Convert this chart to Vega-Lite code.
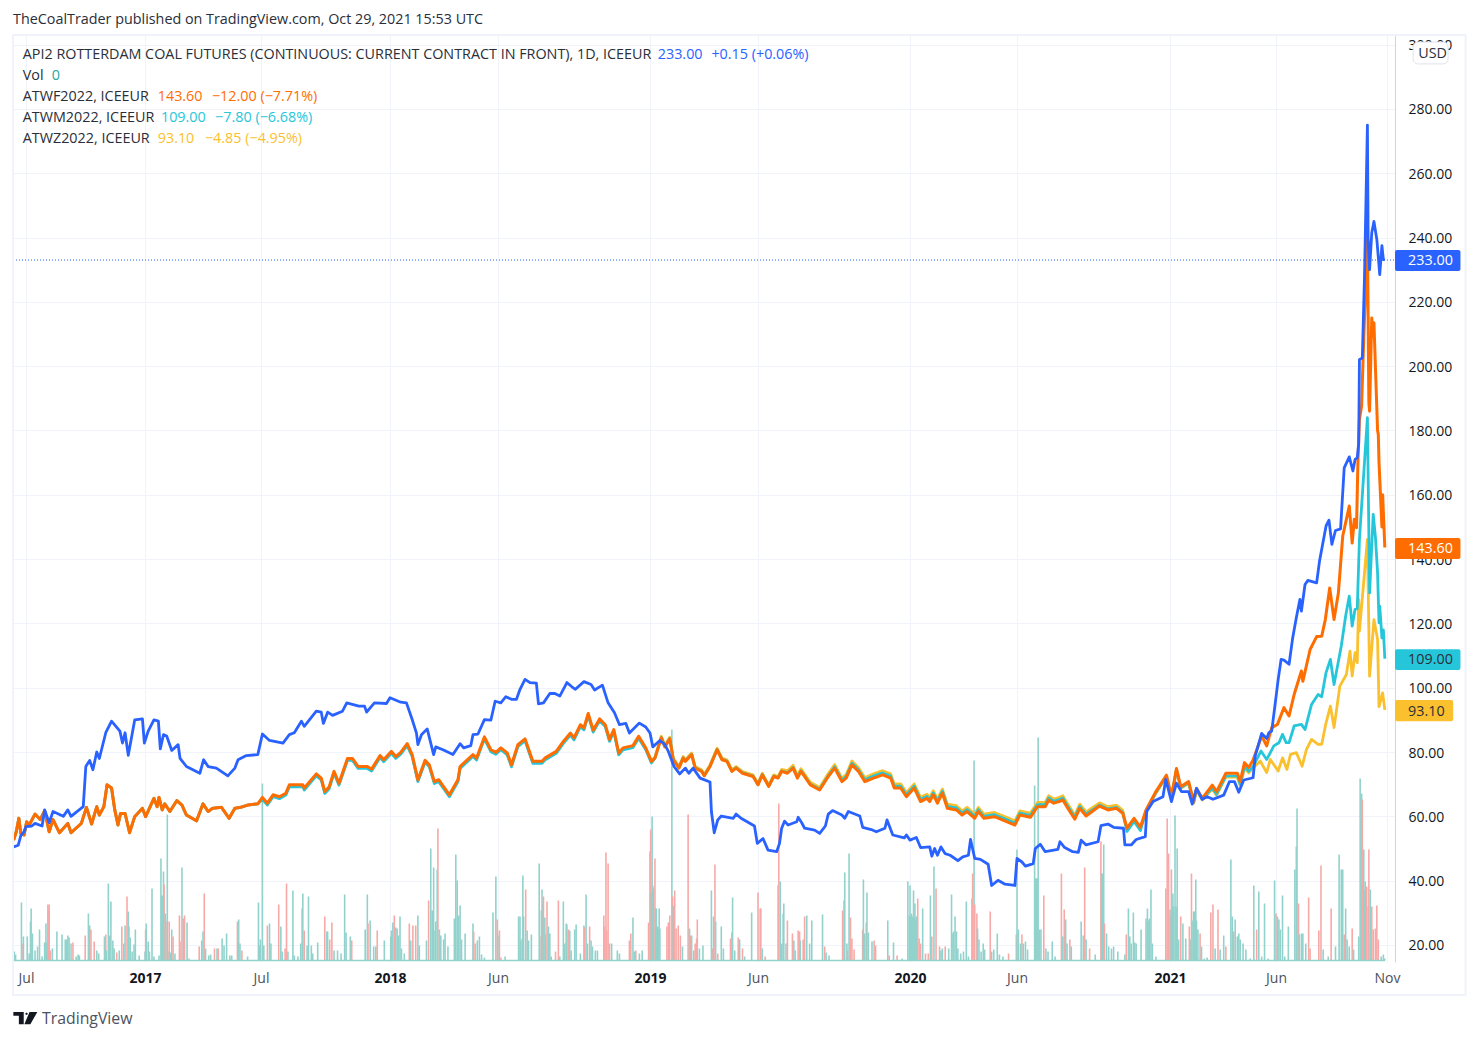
{
"$schema":"https://vega.github.io/schema/vega-lite/v6.json",
"autosize":{"type":"none"},
"padding":{"left":13,"top":35,"right":83,"bottom":78},
"width":1382,"height":927,
"background":"white",
"config":{"view":{"stroke":null},"font":"Open Sans"},
"datasets":{
"volume":[
{"date":"2016-06-13","vol":90,"side":"up"},{"date":"2016-06-15","vol":60,"side":"up"},{"date":"2016-06-24","vol":580,"side":"up"},{"date":"2016-06-25","vol":170,"side":"down"},{"date":"2016-06-27","vol":240,"side":"up"},{"date":"2016-07-03","vol":240,"side":"up"},{"date":"2016-07-06","vol":70,"side":"up"},{"date":"2016-07-08","vol":390,"side":"up"},{"date":"2016-07-09","vol":520,"side":"up"},{"date":"2016-07-11","vol":270,"side":"up"},{"date":"2016-07-15","vol":100,"side":"up"},{"date":"2016-07-19","vol":140,"side":"up"},{"date":"2016-07-22","vol":310,"side":"up"},{"date":"2016-07-26","vol":40,"side":"up"},{"date":"2016-07-30","vol":180,"side":"up"},{"date":"2016-08-01","vol":370,"side":"up"},{"date":"2016-08-02","vol":180,"side":"up"},{"date":"2016-08-04","vol":560,"side":"down"},{"date":"2016-08-05","vol":500,"side":"down"},{"date":"2016-08-06","vol":560,"side":"down"},{"date":"2016-08-08","vol":100,"side":"down"},{"date":"2016-08-11","vol":120,"side":"up"},{"date":"2016-08-18","vol":290,"side":"up"},{"date":"2016-08-26","vol":260,"side":"up"},{"date":"2016-08-31","vol":210,"side":"up"},{"date":"2016-09-02","vol":210,"side":"up"},{"date":"2016-09-04","vol":250,"side":"up"},{"date":"2016-09-06","vol":230,"side":"up"},{"date":"2016-09-09","vol":170,"side":"up"},{"date":"2016-09-12","vol":180,"side":"down"},{"date":"2016-09-17","vol":40,"side":"up"},{"date":"2016-09-20","vol":60,"side":"up"},{"date":"2016-09-22","vol":50,"side":"up"},{"date":"2016-10-01","vol":250,"side":"down"},{"date":"2016-10-06","vol":470,"side":"up"},{"date":"2016-10-08","vol":350,"side":"up"},{"date":"2016-10-10","vol":310,"side":"down"},{"date":"2016-10-15","vol":190,"side":"down"},{"date":"2016-10-19","vol":100,"side":"up"},{"date":"2016-10-22","vol":70,"side":"up"},{"date":"2016-10-31","vol":240,"side":"up"},{"date":"2016-11-02","vol":260,"side":"down"},{"date":"2016-11-03","vol":100,"side":"up"},{"date":"2016-11-06","vol":770,"side":"up"},{"date":"2016-11-08","vol":250,"side":"up"},{"date":"2016-11-10","vol":590,"side":"up"},{"date":"2016-11-13","vol":200,"side":"up"},{"date":"2016-11-15","vol":120,"side":"up"},{"date":"2016-11-19","vol":80,"side":"down"},{"date":"2016-11-23","vol":100,"side":"up"},{"date":"2016-11-27","vol":340,"side":"down"},{"date":"2016-11-30","vol":170,"side":"up"},{"date":"2016-12-02","vol":350,"side":"up"},{"date":"2016-12-05","vol":640,"side":"down"},{"date":"2016-12-07","vol":490,"side":"up"},{"date":"2016-12-08","vol":340,"side":"up"},{"date":"2016-12-10","vol":230,"side":"up"},{"date":"2016-12-13","vol":90,"side":"up"},{"date":"2016-12-16","vol":160,"side":"up"},{"date":"2016-12-18","vol":310,"side":"up"},{"date":"2016-12-24","vol":50,"side":"up"},
{"date":"2017-01-02","vol":90,"side":"up"},{"date":"2017-01-03","vol":310,"side":"down"},{"date":"2017-01-04","vol":370,"side":"up"},{"date":"2017-01-07","vol":190,"side":"up"},{"date":"2017-01-09","vol":90,"side":"up"},{"date":"2017-01-13","vol":720,"side":"up"},{"date":"2017-01-16","vol":40,"side":"up"},{"date":"2017-01-24","vol":50,"side":"up"},{"date":"2017-01-27","vol":1020,"side":"up"},{"date":"2017-01-28","vol":640,"side":"up"},{"date":"2017-01-29","vol":650,"side":"up"},{"date":"2017-01-31","vol":890,"side":"up"},{"date":"2017-02-01","vol":760,"side":"down"},{"date":"2017-02-03","vol":470,"side":"up"},{"date":"2017-02-04","vol":390,"side":"down"},{"date":"2017-02-06","vol":1460,"side":"up"},{"date":"2017-02-07","vol":90,"side":"up"},{"date":"2017-02-09","vol":390,"side":"down"},{"date":"2017-02-11","vol":80,"side":"up"},{"date":"2017-02-13","vol":310,"side":"up"},{"date":"2017-02-15","vol":240,"side":"down"},{"date":"2017-02-18","vol":70,"side":"up"},{"date":"2017-02-25","vol":450,"side":"down"},{"date":"2017-02-26","vol":190,"side":"down"},{"date":"2017-03-01","vol":930,"side":"up"},{"date":"2017-03-03","vol":420,"side":"down"},{"date":"2017-03-05","vol":450,"side":"down"},{"date":"2017-03-09","vol":380,"side":"up"},{"date":"2017-03-12","vol":20,"side":"up"},{"date":"2017-03-28","vol":140,"side":"down"},{"date":"2017-04-01","vol":200,"side":"up"},{"date":"2017-04-03","vol":290,"side":"up"},{"date":"2017-04-05","vol":670,"side":"down"},{"date":"2017-04-07","vol":120,"side":"up"},{"date":"2017-04-12","vol":50,"side":"up"},{"date":"2017-04-15","vol":60,"side":"up"},{"date":"2017-04-21","vol":120,"side":"down"},{"date":"2017-04-25","vol":120,"side":"up"},{"date":"2017-04-27","vol":120,"side":"down"},{"date":"2017-05-03","vol":220,"side":"up"},{"date":"2017-05-06","vol":150,"side":"up"},{"date":"2017-05-10","vol":270,"side":"up"},{"date":"2017-05-15","vol":50,"side":"up"},{"date":"2017-05-18","vol":50,"side":"up"},{"date":"2017-05-27","vol":390,"side":"down"},{"date":"2017-05-29","vol":410,"side":"up"},{"date":"2017-05-31","vol":170,"side":"up"},{"date":"2017-06-03","vol":100,"side":"down"},{"date":"2017-06-12","vol":40,"side":"up"},{"date":"2017-06-29","vol":580,"side":"up"},{"date":"2017-07-01","vol":150,"side":"up"},{"date":"2017-07-02","vol":210,"side":"up"},{"date":"2017-07-05","vol":1770,"side":"up"},{"date":"2017-07-07","vol":150,"side":"up"},{"date":"2017-07-12","vol":350,"side":"down"},{"date":"2017-07-15","vol":370,"side":"up"},{"date":"2017-07-17","vol":170,"side":"up"},{"date":"2017-07-28","vol":560,"side":"down"},{"date":"2017-07-31","vol":340,"side":"up"},{"date":"2017-08-02","vol":90,"side":"up"},{"date":"2017-08-06","vol":120,"side":"down"},{"date":"2017-08-08","vol":770,"side":"down"},{"date":"2017-08-10","vol":90,"side":"up"},{"date":"2017-08-17","vol":700,"side":"up"},{"date":"2017-08-19","vol":50,"side":"up"},{"date":"2017-08-24","vol":40,"side":"up"},{"date":"2017-08-28","vol":170,"side":"up"},{"date":"2017-08-30","vol":520,"side":"down"},{"date":"2017-08-31","vol":670,"side":"up"},{"date":"2017-09-02","vol":300,"side":"down"},{"date":"2017-09-06","vol":150,"side":"up"},{"date":"2017-09-08","vol":640,"side":"up"},{"date":"2017-09-12","vol":150,"side":"up"},{"date":"2017-09-14","vol":70,"side":"up"},{"date":"2017-09-21","vol":180,"side":"up"},{"date":"2017-10-01","vol":440,"side":"down"},{"date":"2017-10-04","vol":290,"side":"up"},{"date":"2017-10-05","vol":290,"side":"up"},{"date":"2017-10-08","vol":210,"side":"down"},{"date":"2017-10-11","vol":380,"side":"down"},{"date":"2017-10-14","vol":100,"side":"up"},{"date":"2017-10-19","vol":100,"side":"up"},{"date":"2017-10-24","vol":70,"side":"up"},{"date":"2017-10-29","vol":660,"side":"up"},{"date":"2017-10-31","vol":280,"side":"up"},{"date":"2017-11-06","vol":240,"side":"up"},{"date":"2017-11-08","vol":200,"side":"down"},{"date":"2017-11-27","vol":310,"side":"up"},{"date":"2017-11-30","vol":660,"side":"up"},{"date":"2017-12-01","vol":370,"side":"down"},{"date":"2017-12-04","vol":400,"side":"up"},{"date":"2017-12-09","vol":140,"side":"up"},{"date":"2017-12-12","vol":140,"side":"up"},{"date":"2017-12-14","vol":300,"side":"down"},{"date":"2017-12-24","vol":200,"side":"up"},
{"date":"2018-01-02","vol":240,"side":"up"},{"date":"2018-01-03","vol":300,"side":"up"},{"date":"2018-01-05","vol":380,"side":"up"},{"date":"2018-01-07","vol":450,"side":"down"},{"date":"2018-01-09","vol":330,"side":"up"},{"date":"2018-01-11","vol":320,"side":"up"},{"date":"2018-01-13","vol":250,"side":"up"},{"date":"2018-01-15","vol":440,"side":"up"},{"date":"2018-01-17","vol":120,"side":"up"},{"date":"2018-01-21","vol":70,"side":"up"},{"date":"2018-01-28","vol":370,"side":"down"},{"date":"2018-01-30","vol":200,"side":"up"},{"date":"2018-02-02","vol":350,"side":"down"},{"date":"2018-02-06","vol":350,"side":"down"},{"date":"2018-02-09","vol":450,"side":"up"},{"date":"2018-02-11","vol":150,"side":"up"},{"date":"2018-02-21","vol":200,"side":"up"},{"date":"2018-02-24","vol":600,"side":"down"},{"date":"2018-02-27","vol":1120,"side":"up"},{"date":"2018-03-01","vol":500,"side":"up"},{"date":"2018-03-03","vol":930,"side":"up"},{"date":"2018-03-05","vol":300,"side":"up"},{"date":"2018-03-06","vol":390,"side":"up"},{"date":"2018-03-08","vol":910,"side":"up"},{"date":"2018-03-09","vol":1320,"side":"down"},{"date":"2018-03-11","vol":310,"side":"up"},{"date":"2018-03-13","vol":250,"side":"up"},{"date":"2018-03-17","vol":210,"side":"up"},{"date":"2018-03-19","vol":270,"side":"up"},{"date":"2018-03-23","vol":140,"side":"up"},{"date":"2018-04-01","vol":420,"side":"up"},{"date":"2018-04-03","vol":1060,"side":"up"},{"date":"2018-04-05","vol":800,"side":"up"},{"date":"2018-04-07","vol":450,"side":"up"},{"date":"2018-04-09","vol":550,"side":"up"},{"date":"2018-04-11","vol":210,"side":"up"},{"date":"2018-04-16","vol":270,"side":"up"},{"date":"2018-04-27","vol":370,"side":"up"},{"date":"2018-04-28","vol":290,"side":"down"},{"date":"2018-04-30","vol":170,"side":"down"},{"date":"2018-05-03","vol":200,"side":"up"},{"date":"2018-05-06","vol":240,"side":"up"},{"date":"2018-05-09","vol":60,"side":"up"},{"date":"2018-05-13","vol":30,"side":"up"},{"date":"2018-05-25","vol":480,"side":"up"},{"date":"2018-05-29","vol":840,"side":"up"},{"date":"2018-05-31","vol":410,"side":"down"},{"date":"2018-06-01","vol":250,"side":"up"},{"date":"2018-06-03","vol":300,"side":"down"},{"date":"2018-06-05","vol":30,"side":"down"},{"date":"2018-06-11","vol":40,"side":"up"},{"date":"2018-06-30","vol":440,"side":"up"},{"date":"2018-07-02","vol":440,"side":"up"},{"date":"2018-07-03","vol":200,"side":"up"},{"date":"2018-07-05","vol":220,"side":"up"},{"date":"2018-07-06","vol":850,"side":"up"},{"date":"2018-07-07","vol":440,"side":"up"},{"date":"2018-07-10","vol":710,"side":"down"},{"date":"2018-07-12","vol":300,"side":"up"},{"date":"2018-07-14","vol":200,"side":"up"},{"date":"2018-07-18","vol":260,"side":"up"},{"date":"2018-07-29","vol":970,"side":"up"},{"date":"2018-07-30","vol":240,"side":"down"},{"date":"2018-08-01","vol":500,"side":"up"},{"date":"2018-08-02","vol":710,"side":"up"},{"date":"2018-08-03","vol":570,"side":"up"},{"date":"2018-08-04","vol":640,"side":"down"},{"date":"2018-08-06","vol":430,"side":"up"},{"date":"2018-08-07","vol":260,"side":"up"},{"date":"2018-08-09","vol":590,"side":"down"},{"date":"2018-08-11","vol":340,"side":"up"},{"date":"2018-08-13","vol":270,"side":"up"},{"date":"2018-08-15","vol":40,"side":"up"},{"date":"2018-08-21","vol":90,"side":"down"},{"date":"2018-08-25","vol":600,"side":"down"},{"date":"2018-08-27","vol":40,"side":"up"},{"date":"2018-09-01","vol":590,"side":"up"},{"date":"2018-09-03","vol":170,"side":"up"},{"date":"2018-09-05","vol":370,"side":"up"},{"date":"2018-09-06","vol":360,"side":"up"},{"date":"2018-09-08","vol":310,"side":"down"},{"date":"2018-09-10","vol":300,"side":"up"},{"date":"2018-09-12","vol":100,"side":"up"},{"date":"2018-09-17","vol":310,"side":"up"},{"date":"2018-09-19","vol":360,"side":"up"},{"date":"2018-09-25","vol":70,"side":"up"},{"date":"2018-09-30","vol":350,"side":"up"},{"date":"2018-10-01","vol":330,"side":"down"},{"date":"2018-10-03","vol":660,"side":"up"},{"date":"2018-10-05","vol":170,"side":"up"},{"date":"2018-10-08","vol":340,"side":"down"},{"date":"2018-10-10","vol":200,"side":"up"},{"date":"2018-10-12","vol":140,"side":"up"},{"date":"2018-10-16","vol":100,"side":"up"},{"date":"2018-10-19","vol":100,"side":"up"},{"date":"2018-10-28","vol":450,"side":"down"},{"date":"2018-10-29","vol":340,"side":"down"},{"date":"2018-10-31","vol":1080,"side":"down"},{"date":"2018-11-01","vol":300,"side":"down"},{"date":"2018-11-03","vol":970,"side":"down"},{"date":"2018-11-05","vol":170,"side":"down"},{"date":"2018-11-08","vol":170,"side":"up"},{"date":"2018-11-16","vol":100,"side":"up"},{"date":"2018-11-19","vol":70,"side":"up"},{"date":"2018-12-03","vol":200,"side":"down"},{"date":"2018-12-05","vol":270,"side":"down"},{"date":"2018-12-08","vol":430,"side":"up"},{"date":"2018-12-10","vol":90,"side":"up"},{"date":"2018-12-12","vol":100,"side":"down"},{"date":"2018-12-17","vol":70,"side":"up"},{"date":"2018-12-21","vol":100,"side":"up"},{"date":"2018-12-30","vol":380,"side":"down"},
{"date":"2019-01-01","vol":1090,"side":"up"},{"date":"2019-01-02","vol":1310,"side":"down"},{"date":"2019-01-03","vol":680,"side":"up"},{"date":"2019-01-04","vol":1440,"side":"up"},{"date":"2019-01-05","vol":750,"side":"up"},{"date":"2019-01-06","vol":720,"side":"up"},{"date":"2019-01-08","vol":1020,"side":"down"},{"date":"2019-01-09","vol":520,"side":"up"},{"date":"2019-01-10","vol":520,"side":"up"},{"date":"2019-01-11","vol":300,"side":"up"},{"date":"2019-01-12","vol":340,"side":"up"},{"date":"2019-01-13","vol":310,"side":"up"},{"date":"2019-01-14","vol":520,"side":"up"},{"date":"2019-01-15","vol":320,"side":"up"},{"date":"2019-01-25","vol":340,"side":"down"},{"date":"2019-01-27","vol":380,"side":"down"},{"date":"2019-01-29","vol":450,"side":"down"},{"date":"2019-02-01","vol":2310,"side":"up"},{"date":"2019-02-02","vol":640,"side":"down"},{"date":"2019-02-03","vol":550,"side":"up"},{"date":"2019-02-05","vol":700,"side":"down"},{"date":"2019-02-07","vol":320,"side":"down"},{"date":"2019-02-10","vol":350,"side":"down"},{"date":"2019-02-13","vol":250,"side":"down"},{"date":"2019-02-16","vol":140,"side":"up"},{"date":"2019-02-24","vol":1460,"side":"down"},{"date":"2019-02-26","vol":320,"side":"up"},{"date":"2019-02-27","vol":250,"side":"down"},{"date":"2019-03-01","vol":250,"side":"up"},{"date":"2019-03-04","vol":100,"side":"up"},{"date":"2019-03-06","vol":170,"side":"down"},{"date":"2019-03-08","vol":220,"side":"down"},{"date":"2019-03-09","vol":410,"side":"down"},{"date":"2019-03-12","vol":120,"side":"up"},{"date":"2019-03-17","vol":150,"side":"up"},{"date":"2019-03-29","vol":700,"side":"up"},{"date":"2019-03-31","vol":120,"side":"down"},{"date":"2019-04-01","vol":440,"side":"up"},{"date":"2019-04-03","vol":960,"side":"down"},{"date":"2019-04-04","vol":390,"side":"up"},{"date":"2019-04-07","vol":70,"side":"down"},{"date":"2019-04-12","vol":340,"side":"up"},{"date":"2019-04-15","vol":120,"side":"up"},{"date":"2019-04-25","vol":220,"side":"down"},{"date":"2019-04-27","vol":280,"side":"down"},{"date":"2019-04-28","vol":630,"side":"up"},{"date":"2019-05-01","vol":100,"side":"up"},{"date":"2019-05-06","vol":230,"side":"down"},{"date":"2019-05-08","vol":210,"side":"up"},{"date":"2019-05-12","vol":120,"side":"down"},{"date":"2019-05-15","vol":40,"side":"up"},{"date":"2019-05-25","vol":480,"side":"up"},{"date":"2019-06-03","vol":680,"side":"down"},{"date":"2019-06-06","vol":520,"side":"down"},{"date":"2019-06-07","vol":520,"side":"down"},{"date":"2019-06-09","vol":120,"side":"up"},{"date":"2019-06-13","vol":40,"side":"down"},{"date":"2019-07-01","vol":750,"side":"down"},{"date":"2019-07-02","vol":1570,"side":"down"},{"date":"2019-07-04","vol":790,"side":"up"},{"date":"2019-07-06","vol":170,"side":"up"},{"date":"2019-07-08","vol":470,"side":"up"},{"date":"2019-07-09","vol":570,"side":"up"},{"date":"2019-07-12","vol":170,"side":"up"},{"date":"2019-07-14","vol":400,"side":"down"},{"date":"2019-07-21","vol":270,"side":"down"},{"date":"2019-07-23","vol":200,"side":"up"},{"date":"2019-07-25","vol":100,"side":"up"},{"date":"2019-07-29","vol":300,"side":"down"},{"date":"2019-07-31","vol":290,"side":"down"},{"date":"2019-08-01","vol":200,"side":"up"},{"date":"2019-08-05","vol":210,"side":"down"},{"date":"2019-08-07","vol":440,"side":"down"},{"date":"2019-08-10","vol":450,"side":"up"},{"date":"2019-08-14","vol":170,"side":"up"},{"date":"2019-08-17","vol":400,"side":"up"},{"date":"2019-09-01","vol":460,"side":"up"},{"date":"2019-09-04","vol":140,"side":"down"},{"date":"2019-09-06","vol":80,"side":"up"},{"date":"2019-09-10","vol":50,"side":"up"},{"date":"2019-09-29","vol":500,"side":"down"},{"date":"2019-10-01","vol":600,"side":"up"},{"date":"2019-10-02","vol":880,"side":"up"},{"date":"2019-10-05","vol":170,"side":"up"},{"date":"2019-10-06","vol":100,"side":"down"},{"date":"2019-10-08","vol":1070,"side":"up"},{"date":"2019-10-10","vol":430,"side":"down"},{"date":"2019-10-12","vol":220,"side":"down"},{"date":"2019-10-15","vol":110,"side":"down"},{"date":"2019-10-27","vol":310,"side":"down"},{"date":"2019-10-28","vol":810,"side":"up"},{"date":"2019-10-30","vol":270,"side":"up"},{"date":"2019-11-01","vol":380,"side":"down"},{"date":"2019-11-02","vol":680,"side":"up"},{"date":"2019-11-04","vol":280,"side":"up"},{"date":"2019-11-09","vol":190,"side":"up"},{"date":"2019-11-12","vol":200,"side":"down"},{"date":"2019-11-14","vol":150,"side":"down"},{"date":"2019-12-01","vol":400,"side":"up"},{"date":"2019-12-03","vol":50,"side":"down"},{"date":"2019-12-09","vol":180,"side":"up"},{"date":"2019-12-14","vol":50,"side":"down"},{"date":"2019-12-21","vol":20,"side":"up"},{"date":"2019-12-29","vol":790,"side":"up"},{"date":"2019-12-31","vol":450,"side":"up"},
{"date":"2020-01-01","vol":750,"side":"up"},{"date":"2020-01-02","vol":440,"side":"up"},{"date":"2020-01-03","vol":470,"side":"up"},{"date":"2020-01-04","vol":430,"side":"up"},{"date":"2020-01-05","vol":440,"side":"up"},{"date":"2020-01-06","vol":700,"side":"up"},{"date":"2020-01-07","vol":420,"side":"up"},{"date":"2020-01-08","vol":570,"side":"up"},{"date":"2020-01-09","vol":400,"side":"up"},{"date":"2020-01-10","vol":440,"side":"up"},{"date":"2020-01-12","vol":620,"side":"down"},{"date":"2020-01-14","vol":220,"side":"down"},{"date":"2020-01-16","vol":170,"side":"down"},{"date":"2020-01-19","vol":520,"side":"up"},{"date":"2020-01-23","vol":70,"side":"down"},{"date":"2020-01-27","vol":70,"side":"down"},{"date":"2020-01-30","vol":650,"side":"up"},{"date":"2020-02-01","vol":240,"side":"down"},{"date":"2020-02-04","vol":940,"side":"up"},{"date":"2020-02-07","vol":720,"side":"down"},{"date":"2020-02-12","vol":140,"side":"down"},{"date":"2020-02-14","vol":100,"side":"up"},{"date":"2020-02-16","vol":120,"side":"up"},{"date":"2020-02-20","vol":140,"side":"down"},{"date":"2020-02-25","vol":120,"side":"up"},{"date":"2020-02-29","vol":660,"side":"up"},{"date":"2020-03-02","vol":270,"side":"up"},{"date":"2020-03-03","vol":290,"side":"up"},{"date":"2020-03-05","vol":440,"side":"up"},{"date":"2020-03-07","vol":290,"side":"up"},{"date":"2020-03-09","vol":120,"side":"up"},{"date":"2020-03-13","vol":70,"side":"up"},{"date":"2020-03-17","vol":90,"side":"up"},{"date":"2020-03-21","vol":590,"side":"up"},{"date":"2020-03-24","vol":40,"side":"up"},{"date":"2020-03-29","vol":620,"side":"down"},{"date":"2020-03-30","vol":870,"side":"down"},{"date":"2020-04-01","vol":2000,"side":"up"},{"date":"2020-04-02","vol":560,"side":"down"},{"date":"2020-04-05","vol":470,"side":"down"},{"date":"2020-04-06","vol":320,"side":"up"},{"date":"2020-04-08","vol":210,"side":"up"},{"date":"2020-04-11","vol":90,"side":"up"},{"date":"2020-04-14","vol":170,"side":"up"},{"date":"2020-04-16","vol":110,"side":"up"},{"date":"2020-04-24","vol":490,"side":"down"},{"date":"2020-04-26","vol":90,"side":"up"},{"date":"2020-04-29","vol":110,"side":"up"},{"date":"2020-05-04","vol":270,"side":"up"},{"date":"2020-05-07","vol":60,"side":"up"},{"date":"2020-05-12","vol":40,"side":"up"},{"date":"2020-05-20","vol":70,"side":"down"},{"date":"2020-05-31","vol":260,"side":"down"},{"date":"2020-06-01","vol":1110,"side":"up"},{"date":"2020-06-03","vol":310,"side":"up"},{"date":"2020-06-06","vol":170,"side":"up"},{"date":"2020-06-08","vol":260,"side":"down"},{"date":"2020-06-10","vol":170,"side":"up"},{"date":"2020-06-13","vol":190,"side":"up"},{"date":"2020-06-16","vol":110,"side":"up"},{"date":"2020-06-26","vol":1750,"side":"up"},{"date":"2020-06-27","vol":820,"side":"up"},{"date":"2020-06-28","vol":820,"side":"up"},{"date":"2020-06-29","vol":820,"side":"up"},{"date":"2020-06-30","vol":820,"side":"up"},{"date":"2020-07-01","vol":2230,"side":"up"},{"date":"2020-07-03","vol":310,"side":"up"},{"date":"2020-07-05","vol":310,"side":"up"},{"date":"2020-07-09","vol":650,"side":"down"},{"date":"2020-07-12","vol":120,"side":"up"},{"date":"2020-07-15","vol":90,"side":"up"},{"date":"2020-07-21","vol":190,"side":"up"},{"date":"2020-07-25","vol":40,"side":"up"},{"date":"2020-08-03","vol":870,"side":"down"},{"date":"2020-08-05","vol":240,"side":"up"},{"date":"2020-08-07","vol":510,"side":"down"},{"date":"2020-08-09","vol":410,"side":"up"},{"date":"2020-08-11","vol":170,"side":"up"},{"date":"2020-08-15","vol":210,"side":"down"},{"date":"2020-08-17","vol":140,"side":"up"},{"date":"2020-08-31","vol":390,"side":"up"},{"date":"2020-09-03","vol":250,"side":"up"},{"date":"2020-09-05","vol":930,"side":"down"},{"date":"2020-09-07","vol":210,"side":"up"},{"date":"2020-09-12","vol":120,"side":"down"},{"date":"2020-09-20","vol":60,"side":"up"},{"date":"2020-09-28","vol":1190,"side":"down"},{"date":"2020-09-29","vol":870,"side":"up"},{"date":"2020-09-30","vol":870,"side":"up"},{"date":"2020-10-01","vol":600,"side":"up"},{"date":"2020-10-02","vol":1160,"side":"up"},{"date":"2020-10-03","vol":370,"side":"down"},{"date":"2020-10-06","vol":270,"side":"up"},{"date":"2020-10-09","vol":140,"side":"up"},{"date":"2020-10-13","vol":120,"side":"up"},{"date":"2020-10-16","vol":140,"side":"up"},{"date":"2020-10-22","vol":90,"side":"up"},{"date":"2020-11-01","vol":60,"side":"up"},{"date":"2020-11-03","vol":260,"side":"down"},{"date":"2020-11-06","vol":520,"side":"up"},{"date":"2020-11-08","vol":240,"side":"up"},{"date":"2020-11-10","vol":170,"side":"up"},{"date":"2020-11-13","vol":480,"side":"up"},{"date":"2020-11-15","vol":180,"side":"up"},{"date":"2020-11-17","vol":170,"side":"up"},{"date":"2020-11-24","vol":310,"side":"up"},{"date":"2020-12-01","vol":420,"side":"up"},{"date":"2020-12-03","vol":520,"side":"up"},{"date":"2020-12-05","vol":400,"side":"up"},{"date":"2020-12-06","vol":420,"side":"up"},{"date":"2020-12-08","vol":710,"side":"up"},{"date":"2020-12-10","vol":170,"side":"up"},{"date":"2020-12-15","vol":40,"side":"up"},{"date":"2020-12-29","vol":720,"side":"down"},{"date":"2020-12-31","vol":1420,"side":"down"},
{"date":"2021-01-02","vol":1070,"side":"down"},{"date":"2021-01-04","vol":510,"side":"up"},{"date":"2021-01-05","vol":450,"side":"up"},{"date":"2021-01-06","vol":910,"side":"down"},{"date":"2021-01-07","vol":500,"side":"up"},{"date":"2021-01-08","vol":670,"side":"up"},{"date":"2021-01-09","vol":540,"side":"up"},{"date":"2021-01-11","vol":1450,"side":"up"},{"date":"2021-01-12","vol":540,"side":"up"},{"date":"2021-01-13","vol":530,"side":"up"},{"date":"2021-01-14","vol":1120,"side":"up"},{"date":"2021-01-16","vol":210,"side":"up"},{"date":"2021-01-19","vol":440,"side":"down"},{"date":"2021-01-22","vol":370,"side":"up"},{"date":"2021-01-26","vol":220,"side":"up"},{"date":"2021-01-31","vol":340,"side":"down"},{"date":"2021-02-02","vol":210,"side":"up"},{"date":"2021-02-03","vol":870,"side":"down"},{"date":"2021-02-05","vol":400,"side":"up"},{"date":"2021-02-06","vol":490,"side":"up"},{"date":"2021-02-07","vol":490,"side":"up"},{"date":"2021-02-09","vol":810,"side":"up"},{"date":"2021-02-10","vol":400,"side":"up"},{"date":"2021-02-12","vol":310,"side":"up"},{"date":"2021-02-15","vol":270,"side":"down"},{"date":"2021-02-17","vol":140,"side":"up"},{"date":"2021-02-21","vol":20,"side":"up"},{"date":"2021-02-25","vol":30,"side":"up"},{"date":"2021-03-02","vol":480,"side":"down"},{"date":"2021-03-05","vol":560,"side":"down"},{"date":"2021-03-08","vol":120,"side":"up"},{"date":"2021-03-12","vol":510,"side":"down"},{"date":"2021-03-15","vol":110,"side":"up"},{"date":"2021-03-20","vol":250,"side":"up"},{"date":"2021-03-23","vol":140,"side":"down"},{"date":"2021-03-30","vol":1010,"side":"up"},{"date":"2021-04-01","vol":440,"side":"up"},{"date":"2021-04-03","vol":290,"side":"down"},{"date":"2021-04-05","vol":410,"side":"up"},{"date":"2021-04-08","vol":240,"side":"up"},{"date":"2021-04-10","vol":270,"side":"up"},{"date":"2021-04-12","vol":210,"side":"up"},{"date":"2021-04-16","vol":170,"side":"up"},{"date":"2021-04-20","vol":110,"side":"up"},{"date":"2021-04-26","vol":20,"side":"up"},{"date":"2021-05-01","vol":750,"side":"up"},{"date":"2021-05-05","vol":310,"side":"down"},{"date":"2021-05-08","vol":690,"side":"up"},{"date":"2021-05-12","vol":40,"side":"up"},{"date":"2021-05-16","vol":570,"side":"up"},{"date":"2021-05-21","vol":20,"side":"up"},{"date":"2021-05-30","vol":800,"side":"up"},{"date":"2021-06-01","vol":470,"side":"down"},{"date":"2021-06-03","vol":440,"side":"up"},{"date":"2021-06-05","vol":410,"side":"up"},{"date":"2021-06-07","vol":310,"side":"up"},{"date":"2021-06-10","vol":650,"side":"up"},{"date":"2021-06-13","vol":40,"side":"up"},{"date":"2021-06-18","vol":340,"side":"up"},{"date":"2021-06-27","vol":910,"side":"up"},{"date":"2021-06-29","vol":1140,"side":"up"},{"date":"2021-06-30","vol":1520,"side":"up"},{"date":"2021-07-02","vol":570,"side":"down"},{"date":"2021-07-03","vol":260,"side":"up"},{"date":"2021-07-06","vol":270,"side":"up"},{"date":"2021-07-08","vol":270,"side":"up"},{"date":"2021-07-12","vol":170,"side":"up"},{"date":"2021-07-16","vol":630,"side":"down"},{"date":"2021-07-18","vol":120,"side":"down"},{"date":"2021-07-30","vol":300,"side":"down"},{"date":"2021-08-02","vol":950,"side":"down"},{"date":"2021-08-05","vol":110,"side":"up"},{"date":"2021-08-12","vol":40,"side":"up"},{"date":"2021-08-16","vol":520,"side":"down"},{"date":"2021-08-22","vol":140,"side":"up"},{"date":"2021-08-27","vol":1060,"side":"up"},{"date":"2021-08-30","vol":910,"side":"up"},{"date":"2021-09-01","vol":910,"side":"up"},{"date":"2021-09-03","vol":260,"side":"down"},{"date":"2021-09-05","vol":520,"side":"up"},{"date":"2021-09-07","vol":210,"side":"up"},{"date":"2021-09-10","vol":140,"side":"up"},{"date":"2021-09-14","vol":320,"side":"down"},{"date":"2021-09-16","vol":110,"side":"up"},{"date":"2021-09-23","vol":240,"side":"up"},{"date":"2021-09-25","vol":1820,"side":"up"},{"date":"2021-09-27","vol":1670,"side":"up"},{"date":"2021-09-28","vol":1610,"side":"down"},{"date":"2021-09-29","vol":1000,"side":"down"},{"date":"2021-09-30","vol":1110,"side":"up"},{"date":"2021-10-01","vol":700,"side":"up"},{"date":"2021-10-02","vol":790,"side":"up"},{"date":"2021-10-04","vol":740,"side":"down"},{"date":"2021-10-06","vol":540,"side":"up"},{"date":"2021-10-07","vol":1110,"side":"down"},{"date":"2021-10-09","vol":710,"side":"up"},{"date":"2021-10-11","vol":540,"side":"down"},{"date":"2021-10-13","vol":310,"side":"down"},{"date":"2021-10-16","vol":320,"side":"down"},{"date":"2021-10-18","vol":550,"side":"down"},{"date":"2021-10-20","vol":210,"side":"down"},{"date":"2021-10-24","vol":40,"side":"up"},{"date":"2021-10-27","vol":60,"side":"up"},{"date":"2021-10-29","vol":20,"side":"up"}
],
"api2":[
{"date":"2016-06-12","price":50.5},{"date":"2016-06-19","price":51},{"date":"2016-06-23","price":54},{"date":"2016-06-28","price":55.2},{"date":"2016-07-01","price":56.8},{"date":"2016-07-10","price":57},{"date":"2016-07-15","price":57.8},{"date":"2016-07-26","price":57},{"date":"2016-07-30","price":62},{"date":"2016-08-06","price":58},{"date":"2016-08-12","price":61.5},{"date":"2016-08-28","price":60},{"date":"2016-09-04","price":62},{"date":"2016-09-09","price":60},{"date":"2016-09-28","price":63},{"date":"2016-10-02","price":75.5},{"date":"2016-10-08","price":77.4},{"date":"2016-10-13","price":74.5},{"date":"2016-10-19","price":80},{"date":"2016-10-23","price":78},{"date":"2016-11-02","price":86},{"date":"2016-11-11","price":89.6},{"date":"2016-11-24","price":86.5},{"date":"2016-11-28","price":82.8},{"date":"2016-12-02","price":86},{"date":"2016-12-07","price":79},{"date":"2016-12-17","price":90},{"date":"2016-12-29","price":90.3},{"date":"2017-01-01","price":82.8},{"date":"2017-01-07","price":86.5},{"date":"2017-01-16","price":90},{"date":"2017-01-23","price":89.6},{"date":"2017-01-26","price":81},{"date":"2017-01-31","price":85.4},{"date":"2017-02-05","price":85},{"date":"2017-02-13","price":80.5},{"date":"2017-02-23","price":82.3},{"date":"2017-02-26","price":78},{"date":"2017-03-08","price":75.5},{"date":"2017-03-29","price":73.4},{"date":"2017-04-04","price":77.6},{"date":"2017-04-11","price":75.5},{"date":"2017-04-24","price":75},{"date":"2017-05-12","price":72.6},{"date":"2017-05-23","price":75},{"date":"2017-05-28","price":77.6},{"date":"2017-06-10","price":78.9},{"date":"2017-06-28","price":79.2},{"date":"2017-07-05","price":85.6},{"date":"2017-07-15","price":83.6},{"date":"2017-08-03","price":82.8},{"date":"2017-08-12","price":85.4},{"date":"2017-08-19","price":86},{"date":"2017-08-29","price":89.6},{"date":"2017-09-02","price":88},{"date":"2017-09-19","price":92.7},{"date":"2017-09-26","price":92.4},{"date":"2017-09-29","price":88.9},{"date":"2017-10-05","price":92.4},{"date":"2017-10-12","price":91.4},{"date":"2017-10-26","price":92.7},{"date":"2017-11-01","price":95.3},{"date":"2017-11-18","price":94.3},{"date":"2017-11-26","price":94.3},{"date":"2017-11-29","price":92.4},{"date":"2017-12-10","price":95.3},{"date":"2017-12-27","price":95.1},{"date":"2018-01-01","price":96.9},{"date":"2018-01-16","price":95.5},{"date":"2018-01-24","price":95.3},{"date":"2018-02-01","price":90.1},{"date":"2018-02-07","price":85.9},{"date":"2018-02-09","price":82.3},{"date":"2018-02-14","price":85.4},{"date":"2018-02-22","price":87.2},{"date":"2018-03-03","price":79.2},{"date":"2018-03-06","price":81.6},{"date":"2018-03-16","price":80.7},{"date":"2018-03-30","price":79.2},{"date":"2018-04-09","price":82.6},{"date":"2018-04-14","price":81.3},{"date":"2018-04-24","price":82},{"date":"2018-04-27","price":85.4},{"date":"2018-05-04","price":85.6},{"date":"2018-05-13","price":90.1},{"date":"2018-05-22","price":89.9},{"date":"2018-05-28","price":95.8},{"date":"2018-06-05","price":95.3},{"date":"2018-06-12","price":97.2},{"date":"2018-06-20","price":96.4},{"date":"2018-06-27","price":96.4},{"date":"2018-07-02","price":99.5},{"date":"2018-07-09","price":102.6},{"date":"2018-07-16","price":101.6},{"date":"2018-07-25","price":101.4},{"date":"2018-07-28","price":95},{"date":"2018-08-04","price":95.3},{"date":"2018-08-13","price":98.2},{"date":"2018-08-20","price":98.2},{"date":"2018-08-27","price":97.4},{"date":"2018-09-06","price":101.6},{"date":"2018-09-13","price":100.3},{"date":"2018-09-18","price":99.5},{"date":"2018-09-30","price":101.9},{"date":"2018-10-10","price":101},{"date":"2018-10-15","price":99.3},{"date":"2018-10-26","price":100.8},{"date":"2018-11-03","price":95.3},{"date":"2018-11-12","price":92.2},{"date":"2018-11-19","price":88.5},{"date":"2018-11-28","price":88.9},{"date":"2018-12-03","price":85.9},{"date":"2018-12-17","price":89},{"date":"2018-12-26","price":87.8},{"date":"2019-01-01","price":85.9},{"date":"2019-01-05","price":81.6},{"date":"2019-01-15","price":83.6},{"date":"2019-01-22","price":82.3},{"date":"2019-01-27","price":80.2},{"date":"2019-02-04","price":75.5},{"date":"2019-02-12","price":73.2},{"date":"2019-02-20","price":75},{"date":"2019-02-25","price":73.4},{"date":"2019-03-03","price":75},{"date":"2019-03-13","price":71.9},{"date":"2019-03-27","price":70.7},{"date":"2019-03-29","price":61.5},{"date":"2019-04-02","price":54.9},{"date":"2019-04-07","price":58.9},{"date":"2019-04-12","price":60.1},{"date":"2019-04-29","price":59.4},{"date":"2019-05-03","price":60.7},{"date":"2019-05-10","price":59.4},{"date":"2019-05-29","price":57},{"date":"2019-06-02","price":51.6},{"date":"2019-06-10","price":53.1},{"date":"2019-06-17","price":49.5},{"date":"2019-06-29","price":49},{"date":"2019-07-03","price":51.6},{"date":"2019-07-06","price":56.3},{"date":"2019-07-10","price":58.5},{"date":"2019-07-15","price":57.3},{"date":"2019-07-27","price":58.3},{"date":"2019-07-29","price":59.7},{"date":"2019-08-03","price":58},{"date":"2019-08-07","price":56.3},{"date":"2019-08-21","price":55.7},{"date":"2019-08-28","price":54.7},{"date":"2019-09-05","price":57},{"date":"2019-09-09","price":60.7},{"date":"2019-09-15","price":61.8},{"date":"2019-09-28","price":60.4},{"date":"2019-10-02","price":59.4},{"date":"2019-10-07","price":61.5},{"date":"2019-10-23","price":60.1},{"date":"2019-10-27","price":56.6},{"date":"2019-11-08","price":55.9},{"date":"2019-11-15","price":55.2},{"date":"2019-11-27","price":56.3},{"date":"2019-11-30","price":58.9},{"date":"2019-12-08","price":54.2},{"date":"2019-12-24","price":53.3},{"date":"2019-12-27","price":54.2},{"date":"2020-01-01","price":52.6},{"date":"2020-01-10","price":53.4},{"date":"2020-01-16","price":50.3},{"date":"2020-01-29","price":50.5},{"date":"2020-02-01","price":47.6},{"date":"2020-02-05","price":50},{"date":"2020-02-09","price":47.9},{"date":"2020-02-14","price":50.5},{"date":"2020-02-20","price":48.4},{"date":"2020-02-27","price":47.9},{"date":"2020-03-09","price":46.2},{"date":"2020-03-16","price":47.4},{"date":"2020-03-24","price":47.9},{"date":"2020-03-27","price":52.8},{"date":"2020-04-02","price":46.9},{"date":"2020-04-10","price":46.6},{"date":"2020-04-21","price":45.1},{"date":"2020-04-26","price":38.5},{"date":"2020-05-05","price":40.1},{"date":"2020-05-15","price":38.9},{"date":"2020-05-29","price":38.5},{"date":"2020-06-01","price":46.9},{"date":"2020-06-08","price":45.8},{"date":"2020-06-13","price":44.5},{"date":"2020-06-24","price":45.3},{"date":"2020-06-27","price":50},{"date":"2020-07-04","price":51.3},{"date":"2020-07-11","price":49},{"date":"2020-07-29","price":49.7},{"date":"2020-08-01","price":52.1},{"date":"2020-08-07","price":50.4},{"date":"2020-08-19","price":49},{"date":"2020-08-27","price":48.8},{"date":"2020-08-31","price":52.6},{"date":"2020-09-07","price":51.1},{"date":"2020-09-24","price":52.1},{"date":"2020-09-28","price":57.1},{"date":"2020-10-08","price":57.6},{"date":"2020-10-16","price":56.6},{"date":"2020-10-30","price":56.3},{"date":"2020-11-01","price":51.1},{"date":"2020-11-10","price":51.1},{"date":"2020-11-17","price":52.8},{"date":"2020-11-30","price":53.7},{"date":"2020-12-02","price":61.5},{"date":"2020-12-11","price":64.6},{"date":"2020-12-25","price":66.1},{"date":"2020-12-29","price":71.5},{"date":"2021-01-06","price":64.6},{"date":"2021-01-13","price":70.3},{"date":"2021-01-20","price":67.7},{"date":"2021-01-30","price":67.7},{"date":"2021-02-04","price":63.8},{"date":"2021-02-10","price":68.7},{"date":"2021-02-18","price":65.3},{"date":"2021-02-25","price":66.1},{"date":"2021-03-05","price":65.3},{"date":"2021-03-20","price":66.6},{"date":"2021-03-28","price":70.8},{"date":"2021-04-04","price":70.8},{"date":"2021-04-10","price":67.5},{"date":"2021-04-17","price":71.3},{"date":"2021-04-30","price":72},{"date":"2021-05-03","price":78.8},{"date":"2021-05-12","price":85.8},{"date":"2021-05-19","price":84.2},{"date":"2021-05-22","price":86},{"date":"2021-05-26","price":86.5},{"date":"2021-05-31","price":95.3},{"date":"2021-06-04","price":102.6},{"date":"2021-06-08","price":108.8},{"date":"2021-06-12","price":108.6},{"date":"2021-06-19","price":107.3},{"date":"2021-06-24","price":115.5},{"date":"2021-06-29","price":121.8},{"date":"2021-07-04","price":127.5},{"date":"2021-07-06","price":123.8},{"date":"2021-07-11","price":132.1},{"date":"2021-07-15","price":133.4},{"date":"2021-07-27","price":132.6},{"date":"2021-07-31","price":139.4},{"date":"2021-08-09","price":150.3},{"date":"2021-08-13","price":152.1},{"date":"2021-08-17","price":144.6},{"date":"2021-08-22","price":148.9},{"date":"2021-08-29","price":149.4},{"date":"2021-09-03","price":168.4},{"date":"2021-09-10","price":171.8},{"date":"2021-09-15","price":167.4},{"date":"2021-09-18","price":171},{"date":"2021-09-21","price":171.5},{"date":"2021-09-23","price":176},{"date":"2021-09-24","price":202},{"date":"2021-09-28","price":202.6},{"date":"2021-10-01","price":228},{"date":"2021-10-05","price":275},{"date":"2021-10-06","price":240},{"date":"2021-10-08","price":230},{"date":"2021-10-11","price":241.5},{"date":"2021-10-14","price":245},{"date":"2021-10-18","price":239.4},{"date":"2021-10-22","price":228.5},{"date":"2021-10-25","price":237.5},{"date":"2021-10-27","price":233.2},{"date":"2021-10-29","price":233}
],
"contracts":[
{"date":"2016-06-12","f":52.6,"m":52.6,"z":52.6},{"date":"2016-06-16","f":55.2,"m":55.2,"z":55.2},{"date":"2016-06-20","f":59.4,"m":59.4,"z":59.4},{"date":"2016-06-23","f":54.7,"m":54.7,"z":54.7},{"date":"2016-06-28","f":54.2,"m":54.2,"z":54.2},{"date":"2016-07-02","f":58.3,"m":58.3,"z":58.3},{"date":"2016-07-06","f":57.3,"m":57.3,"z":57.3},{"date":"2016-07-15","f":60.7,"m":60.7,"z":60.7},{"date":"2016-07-23","f":59,"m":59,"z":59},{"date":"2016-07-30","f":61.8,"m":61.8,"z":61.8},{"date":"2016-08-06","f":55.2,"m":55.2,"z":55.2},{"date":"2016-08-12","f":59,"m":59,"z":59},{"date":"2016-08-22","f":54.9,"m":54.9,"z":54.9},{"date":"2016-09-04","f":57.8,"m":57.8,"z":57.8},{"date":"2016-09-09","f":54.9,"m":54.9,"z":54.9},{"date":"2016-09-25","f":57.8,"m":57.8,"z":57.8},{"date":"2016-10-03","f":62.8,"m":62.8,"z":62.8},{"date":"2016-10-11","f":57.6,"m":57.6,"z":57.6},{"date":"2016-10-19","f":63,"m":63,"z":63},{"date":"2016-10-23","f":60.4,"m":60.4,"z":60.4},{"date":"2016-10-30","f":63,"m":63,"z":63},{"date":"2016-11-04","f":69.8,"m":69.8,"z":69.8},{"date":"2016-11-11","f":68.8,"m":68.8,"z":68.8},{"date":"2016-11-16","f":62,"m":62,"z":62},{"date":"2016-11-21","f":57.3,"m":57.3,"z":57.3},{"date":"2016-11-25","f":60.9,"m":60.9,"z":60.9},{"date":"2016-12-02","f":60.9,"m":60.9,"z":60.9},{"date":"2016-12-09","f":54.9,"m":54.9,"z":54.9},{"date":"2016-12-17","f":59.9,"m":59.9,"z":59.9},{"date":"2016-12-29","f":62.5,"m":62.5,"z":62.5},{"date":"2017-01-03","f":59.9,"m":59.9,"z":59.9},{"date":"2017-01-16","f":65.6,"m":65.6,"z":65.6},{"date":"2017-01-21","f":63,"m":63,"z":63},{"date":"2017-01-24","f":65.9,"m":65.9,"z":65.9},{"date":"2017-01-29","f":62,"m":62,"z":62},{"date":"2017-02-02","f":63.9,"m":63.9,"z":63.9},{"date":"2017-02-10","f":61.5,"m":61.5,"z":61.5},{"date":"2017-02-21","f":64.9,"m":64.9,"z":64.9},{"date":"2017-03-01","f":63.5,"m":63.5,"z":63.5},{"date":"2017-03-08","f":60.4,"m":60.4,"z":60.4},{"date":"2017-03-24","f":58.6,"m":58.6,"z":58.6},{"date":"2017-04-03","f":63.9,"m":63.9,"z":63.9},{"date":"2017-04-11","f":61.5,"m":61.5,"z":61.5},{"date":"2017-04-18","f":62.5,"m":62.5,"z":62.5},{"date":"2017-05-02","f":62.8,"m":62.8,"z":62.8},{"date":"2017-05-14","f":59.4,"m":59.4,"z":59.4},{"date":"2017-05-23","f":62.5,"m":62.5,"z":62.5},{"date":"2017-06-01","f":62.8,"m":62.8,"z":62.8},{"date":"2017-06-12","f":63.5,"m":63.5,"z":63.5},{"date":"2017-06-28","f":63.9,"m":63.9,"z":63.9},
{"date":"2017-07-05","f":65.9,"m":65.3,"z":65.6},{"date":"2017-07-12","f":64.1,"m":63.5,"z":63.8},{"date":"2017-07-20","f":66.7,"m":66.1,"z":66.4},{"date":"2017-07-29","f":66.1,"m":65.5,"z":65.8},{"date":"2017-08-07","f":67.2,"m":66.6,"z":66.9},{"date":"2017-08-12","f":69.8,"m":69.2,"z":69.5},{"date":"2017-08-31","f":69.8,"m":69.2,"z":69.5},{"date":"2017-09-02","f":68.8,"m":68.2,"z":68.5},{"date":"2017-09-19","f":73.2,"m":72.6,"z":72.9},{"date":"2017-09-26","f":71.9,"m":71.3,"z":71.6},{"date":"2017-10-01","f":67.7,"m":67.1,"z":67.4},{"date":"2017-10-07","f":69.1,"m":68.5,"z":68.8},{"date":"2017-10-14","f":74,"m":73.4,"z":73.7},{"date":"2017-10-21","f":70.3,"m":69.7,"z":70},{"date":"2017-11-02","f":78,"m":77.4,"z":77.7},{"date":"2017-11-09","f":78,"m":77.4,"z":77.7},{"date":"2017-11-17","f":75.5,"m":74.9,"z":75.2},{"date":"2017-11-30","f":75.5,"m":74.9,"z":75.2},{"date":"2017-12-06","f":74.7,"m":74.1,"z":74.4},{"date":"2017-12-18","f":78.9,"m":78.3,"z":78.6},{"date":"2017-12-23","f":77.6,"m":77,"z":77.3},{"date":"2018-01-03","f":80.2,"m":79.6,"z":79.9},{"date":"2018-01-09","f":78.6,"m":78,"z":78.3},{"date":"2018-01-16","f":79.9,"m":79.3,"z":79.6},{"date":"2018-01-25","f":82.6,"m":82,"z":82.3},{"date":"2018-02-01","f":79.2,"m":78.6,"z":78.9},{"date":"2018-02-09","f":71.4,"m":70.8,"z":71.1},{"date":"2018-02-19","f":77.4,"m":76.8,"z":77.1},{"date":"2018-02-25","f":76,"m":75.4,"z":75.7},{"date":"2018-03-04","f":70.8,"m":70.2,"z":70.5},{"date":"2018-03-10","f":71.4,"m":70.8,"z":71.1},{"date":"2018-03-25","f":66.7,"m":66.1,"z":66.4},{"date":"2018-04-06","f":71.4,"m":70.8,"z":71.1},{"date":"2018-04-09","f":75.5,"m":74.9,"z":75.2},{"date":"2018-04-27","f":79.2,"m":78.6,"z":78.9},{"date":"2018-05-02","f":78.1,"m":77.5,"z":77.8},{"date":"2018-05-13","f":84.7,"m":84.1,"z":84.4},{"date":"2018-05-22","f":80.7,"m":80.1,"z":80.4},{"date":"2018-05-29","f":79.9,"m":79.3,"z":79.6},{"date":"2018-06-05","f":81.3,"m":80.7,"z":81},{"date":"2018-06-14","f":79.7,"m":79.1,"z":79.4},{"date":"2018-06-20","f":76,"m":75.4,"z":75.7},{"date":"2018-06-29","f":82.3,"m":81.7,"z":82},{"date":"2018-07-09","f":84.1,"m":83.5,"z":83.8},{"date":"2018-07-20","f":77.1,"m":76.5,"z":76.8},{"date":"2018-08-02","f":77.1,"m":76.5,"z":76.8},{"date":"2018-08-06","f":78.1,"m":77.5,"z":77.8},{"date":"2018-08-22","f":80.2,"m":79.6,"z":79.9},{"date":"2018-09-01","f":83.3,"m":82.7,"z":83},{"date":"2018-09-11","f":85.9,"m":85.3,"z":85.6},{"date":"2018-09-16","f":84.4,"m":83.8,"z":84.1},{"date":"2018-09-25","f":88.5,"m":87.9,"z":88.2},{"date":"2018-09-30","f":87.5,"m":86.9,"z":87.2},{"date":"2018-10-06","f":92,"m":91.4,"z":91.7},{"date":"2018-10-13","f":86.8,"m":86.2,"z":86.5},{"date":"2018-10-22","f":90.3,"m":89.7,"z":90},{"date":"2018-10-30","f":88.5,"m":87.9,"z":88.2},{"date":"2018-11-05","f":83.9,"m":83.3,"z":83.6},{"date":"2018-11-11","f":87,"m":86.4,"z":86.7},{"date":"2018-11-18","f":79.7,"m":79.1,"z":79.4},{"date":"2018-11-24","f":81.3,"m":80.7,"z":81},{"date":"2018-12-08","f":82,"m":81.4,"z":81.7},{"date":"2018-12-16","f":84.9,"m":84.3,"z":84.6},{"date":"2018-12-26","f":81.3,"m":80.7,"z":81},
{"date":"2019-01-03","f":77.1,"m":76.6,"z":77.1},{"date":"2019-01-08","f":78.1,"m":78.1,"z":78.5},{"date":"2019-01-17","f":84.4,"m":84.5,"z":84.9},{"date":"2019-01-22","f":81.6,"m":81.7,"z":82.1},{"date":"2019-01-29","f":84.1,"m":84.2,"z":84.6},{"date":"2019-02-03","f":77.6,"m":77.7,"z":78.1},{"date":"2019-02-11","f":75,"m":75.1,"z":75.5},{"date":"2019-02-17","f":78.1,"m":78.2,"z":78.6},{"date":"2019-02-20","f":77.1,"m":77.2,"z":77.6},{"date":"2019-03-01","f":79.2,"m":79.3,"z":79.7},{"date":"2019-03-06","f":75,"m":75.1,"z":75.5},{"date":"2019-03-15","f":74,"m":74.1,"z":74.5},{"date":"2019-03-19","f":72.6,"m":72.7,"z":73.1},{"date":"2019-03-27","f":75.5,"m":75.6,"z":76},{"date":"2019-04-06","f":80.7,"m":80.8,"z":81.2},{"date":"2019-04-13","f":77.6,"m":77.7,"z":78.1},{"date":"2019-04-20","f":77.1,"m":77.2,"z":77.6},{"date":"2019-04-27","f":74,"m":74.1,"z":74.5},{"date":"2019-05-03","f":75,"m":75.1,"z":75.5},{"date":"2019-05-12","f":73.4,"m":73.5,"z":73.9},{"date":"2019-05-27","f":72.4,"m":72.5,"z":72.9},{"date":"2019-06-03","f":69.8,"m":69.9,"z":70.3},{"date":"2019-06-09","f":72.9,"m":73,"z":73.4},{"date":"2019-06-18","f":69.3,"m":69.4,"z":69.8},{"date":"2019-06-25","f":72.4,"m":72.5,"z":72.9},{"date":"2019-07-01","f":71.9,"m":72,"z":72.4},{"date":"2019-07-06","f":74,"m":74.1,"z":74.6},{"date":"2019-07-14","f":73.4,"m":73.6,"z":74.2},{"date":"2019-07-22","f":75,"m":75.2,"z":75.9},{"date":"2019-07-28","f":71.9,"m":72.1,"z":72.7},{"date":"2019-08-02","f":74,"m":74.2,"z":74.8},{"date":"2019-08-15","f":69.8,"m":70,"z":70.6},{"date":"2019-08-28","f":68.2,"m":68.4,"z":69},{"date":"2019-09-09","f":72.4,"m":72.6,"z":73.3},{"date":"2019-09-18","f":75,"m":75.4,"z":76.1},{"date":"2019-09-28","f":70.8,"m":71.3,"z":71.9},{"date":"2019-10-04","f":71.9,"m":72.4,"z":73},{"date":"2019-10-12","f":76,"m":76.5,"z":77.2},{"date":"2019-10-21","f":74,"m":74.5,"z":75.2},{"date":"2019-10-30","f":70.8,"m":71.4,"z":72},{"date":"2019-11-11","f":71.9,"m":72.5,"z":73.2},{"date":"2019-11-24","f":72.9,"m":73.5,"z":74.2},{"date":"2019-12-05","f":71.9,"m":72.5,"z":73.2},{"date":"2019-12-10","f":68.8,"m":69.4,"z":70.1},{"date":"2019-12-19","f":68.8,"m":69.4,"z":70.1},{"date":"2019-12-27","f":66.1,"m":66.7,"z":67.4},{"date":"2020-01-07","f":68.8,"m":69.4,"z":70.1},{"date":"2020-01-16","f":64.6,"m":65.2,"z":65.9},{"date":"2020-01-25","f":65.6,"m":66.2,"z":66.9},{"date":"2020-01-29","f":64.6,"m":65.2,"z":65.9},{"date":"2020-02-03","f":66.7,"m":67.3,"z":68},{"date":"2020-02-09","f":64.1,"m":64.7,"z":65.4},{"date":"2020-02-16","f":67.2,"m":67.8,"z":68.5},{"date":"2020-02-23","f":62.5,"m":63.1,"z":63.8},{"date":"2020-03-07","f":62,"m":62.6,"z":63.3},{"date":"2020-03-15","f":60.4,"m":61,"z":61.7},{"date":"2020-03-22","f":61.5,"m":62.1,"z":62.8},{"date":"2020-04-02","f":59.4,"m":60,"z":60.7},{"date":"2020-04-07","f":61.5,"m":62.1,"z":62.8},{"date":"2020-04-15","f":59.4,"m":60,"z":60.7},{"date":"2020-04-30","f":59.9,"m":60.5,"z":61.2},{"date":"2020-05-18","f":58.3,"m":58.9,"z":59.6},{"date":"2020-05-29","f":57.3,"m":57.9,"z":58.6},{"date":"2020-06-05","f":60.4,"m":61,"z":61.7},{"date":"2020-06-20","f":59.7,"m":60.3,"z":61},{"date":"2020-06-30","f":63,"m":63.6,"z":64.3},{"date":"2020-07-11","f":63,"m":63.6,"z":64.3},{"date":"2020-07-16","f":65.1,"m":65.7,"z":66.4},{"date":"2020-07-23","f":64.1,"m":64.7,"z":65.4},{"date":"2020-07-31","f":64.6,"m":65.2,"z":65.9},{"date":"2020-08-05","f":65.1,"m":65.7,"z":66.4},{"date":"2020-08-12","f":62.5,"m":63.1,"z":63.8},{"date":"2020-08-22","f":59.1,"m":59.7,"z":60.4},{"date":"2020-08-29","f":62.5,"m":63.1,"z":63.8},{"date":"2020-09-07","f":60.1,"m":60.7,"z":61.4},{"date":"2020-09-26","f":63.2,"m":63.5,"z":64.2},{"date":"2020-10-08","f":62,"m":62.3,"z":63},{"date":"2020-10-20","f":62.5,"m":62.8,"z":63.5},{"date":"2020-10-29","f":60.9,"m":61.2,"z":61.9},{"date":"2020-11-04","f":56.3,"m":55.3,"z":56},{"date":"2020-11-14","f":59.4,"m":58.4,"z":59.1},{"date":"2020-11-23","f":56.6,"m":55.6,"z":56.3},{"date":"2020-12-01","f":62,"m":61.7,"z":61.5},{"date":"2020-12-15","f":67.7,"m":67.4,"z":67.2},{"date":"2020-12-30","f":72.8,"m":72.5,"z":72.3},{"date":"2021-01-06","f":66.1,"m":65.8,"z":65.6},{"date":"2021-01-13","f":74.9,"m":74.6,"z":74.4},{"date":"2021-01-19","f":69.2,"m":68.9,"z":68.7},{"date":"2021-01-30","f":70.8,"m":70.5,"z":70.3},{"date":"2021-02-06","f":64.6,"m":64.3,"z":64.1},{"date":"2021-02-10","f":68.7,"m":68.4,"z":68.2},{"date":"2021-02-18","f":65.6,"m":65.3,"z":65.1},{"date":"2021-03-04","f":69.7,"m":68.9,"z":68.5},{"date":"2021-03-10","f":67.7,"m":66.9,"z":66.5},{"date":"2021-03-23","f":73.4,"m":72.6,"z":72.2},{"date":"2021-04-08","f":73.4,"m":72.6,"z":72.2},{"date":"2021-04-12","f":70.8,"m":70,"z":69.6},{"date":"2021-04-18","f":76.7,"m":75.5,"z":75},{"date":"2021-04-24","f":75.2,"m":74,"z":73.5},{"date":"2021-04-30","f":77.5,"m":75.5,"z":75},
{"date":"2021-05-12","f":85},{"date":"2021-05-19","f":81.9},{"date":"2021-05-26","f":87.6},{"date":"2021-06-03","f":88.6},{"date":"2021-06-12","f":93.8},{"date":"2021-06-19","f":91.2},{"date":"2021-06-26","f":97.9},{"date":"2021-07-06","f":105.2},{"date":"2021-07-08","f":102},{"date":"2021-07-18","f":111.9},{"date":"2021-07-27","f":115.9},{"date":"2021-08-03","f":116},{"date":"2021-08-08","f":121.2},{"date":"2021-08-14","f":131},{"date":"2021-08-20","f":121.2},{"date":"2021-08-26","f":129.5},{"date":"2021-09-01","f":147.2},{"date":"2021-09-10","f":156.5},{"date":"2021-09-14","f":145},{"date":"2021-09-17","f":152.4},{"date":"2021-09-20","f":149.8},{"date":"2021-09-22","f":171},{"date":"2021-09-24","f":183.4},{"date":"2021-09-27","f":187.6},{"date":"2021-09-29","f":202},{"date":"2021-10-05","f":241},{"date":"2021-10-07","f":188.6},{"date":"2021-10-08","f":186},{"date":"2021-10-11","f":215},{"date":"2021-10-13","f":209.3},{"date":"2021-10-14","f":213.5},{"date":"2021-10-19","f":180},{"date":"2021-10-20","f":178.8},{"date":"2021-10-21","f":170},{"date":"2021-10-25","f":150},{"date":"2021-10-26","f":160},{"date":"2021-10-29","f":143.6},
{"date":"2021-05-11","m":80.3},{"date":"2021-05-19","m":77.7},{"date":"2021-05-29","m":81.9},{"date":"2021-06-05","m":82.9},{"date":"2021-06-10","m":85.5},{"date":"2021-06-15","m":82.9},{"date":"2021-06-19","m":82.9},{"date":"2021-06-26","m":88.1},{"date":"2021-07-06","m":88.6},{"date":"2021-07-11","m":87},{"date":"2021-07-20","m":94.8},{"date":"2021-07-29","m":97.9},{"date":"2021-08-03","m":97.2},{"date":"2021-08-09","m":104.7},{"date":"2021-08-15","m":108.8},{"date":"2021-08-20","m":101},{"date":"2021-08-30","m":113},{"date":"2021-09-05","m":122.3},{"date":"2021-09-10","m":128.5},{"date":"2021-09-14","m":119.2},{"date":"2021-09-18","m":124.4},{"date":"2021-09-21","m":124.6},{"date":"2021-09-24","m":146.1},{"date":"2021-10-05","m":184},{"date":"2021-10-08","m":129.5},{"date":"2021-10-13","m":153.9},{"date":"2021-10-16","m":147},{"date":"2021-10-19","m":135.8},{"date":"2021-10-21","m":120.2},{"date":"2021-10-22","m":125.4},{"date":"2021-10-25","m":115.5},{"date":"2021-10-27","m":118},{"date":"2021-10-29","m":109},
{"date":"2021-05-10","z":77.2},{"date":"2021-05-19","z":73.6},{"date":"2021-05-24","z":77.7},{"date":"2021-06-04","z":74.1},{"date":"2021-06-10","z":78.2},{"date":"2021-06-16","z":74.6},{"date":"2021-06-21","z":79.3},{"date":"2021-06-29","z":79.8},{"date":"2021-07-07","z":75.6},{"date":"2021-07-13","z":80.8},{"date":"2021-07-20","z":83.9},{"date":"2021-07-29","z":82.4},{"date":"2021-08-03","z":82.4},{"date":"2021-08-09","z":89.1},{"date":"2021-08-15","z":94.3},{"date":"2021-08-20","z":87.6},{"date":"2021-08-28","z":100.5},{"date":"2021-09-06","z":104.1},{"date":"2021-09-11","z":111.4},{"date":"2021-09-14","z":103.6},{"date":"2021-09-18","z":110.9},{"date":"2021-09-21","z":107.8},{"date":"2021-09-23","z":127.5},{"date":"2021-09-24","z":117.6},{"date":"2021-10-05","z":146.1},{"date":"2021-10-08","z":103.6},{"date":"2021-10-14","z":121.2},{"date":"2021-10-19","z":115},{"date":"2021-10-21","z":94.1},{"date":"2021-10-26","z":98.4},{"date":"2021-10-29","z":93.1}
],
"tags":[
{"date":"2021-11-12","date2":"2022-02-10","top":236.1,"bottom":229.6,"series":"api2"},
{"date":"2021-11-12","date2":"2022-02-10","top":146.6,"bottom":140,"series":"f"},
{"date":"2021-11-12","date2":"2022-02-10","top":112,"bottom":105.5,"series":"m"},
{"date":"2021-11-12","date2":"2022-01-31","top":96.2,"bottom":89.6,"series":"z"}
],
"labels":[
{"date":"2016-06-11","price":308,"text":"TheCoalTrader published on TradingView.com, Oct 29, 2021 15:53 UTC","role":"ink"},
{"date":"2016-06-26","price":297.1,"text":"API2 ROTTERDAM COAL FUTURES (CONTINUOUS: CURRENT CONTRACT IN FRONT), 1D, ICEEUR","role":"ink"},
{"date":"2019-01-12","price":297.1,"text":"233.00","role":"api2"},
{"date":"2019-03-29","price":297.1,"text":"+0.15 (+0.06%)","role":"api2"},
{"date":"2016-06-26","price":290.6,"text":"Vol","role":"ink"},
{"date":"2016-08-10","price":290.6,"text":"0","role":"vol"},
{"date":"2016-06-26","price":284,"text":"ATWF2022, ICEEUR","role":"ink"},
{"date":"2017-01-22","price":284,"text":"143.60","role":"f"},
{"date":"2017-04-17","price":284,"text":"−12.00 (−7.71%)","role":"f"},
{"date":"2016-06-26","price":277.5,"text":"ATWM2022, ICEEUR","role":"ink"},
{"date":"2017-01-27","price":277.5,"text":"109.00","role":"m"},
{"date":"2017-04-22","price":277.5,"text":"−7.80 (−6.68%)","role":"m"},
{"date":"2016-06-26","price":271,"text":"ATWZ2022, ICEEUR","role":"ink"},
{"date":"2017-01-22","price":271,"text":"93.10","role":"z"},
{"date":"2017-04-06","price":271,"text":"−4.85 (−4.95%)","role":"z"},
{"date":"2021-11-30","price":233,"text":"233.00","role":"white"},
{"date":"2021-11-30","price":143.3,"text":"143.60","role":"white"},
{"date":"2021-11-30","price":108.9,"text":"109.00","role":"ink"},
{"date":"2021-11-30","price":92.9,"text":"93.10","role":"ink"},
{"date":"2021-12-14","price":297.3,"text":"USD","role":"ink"}
]
},
"encoding":{
"x":{"field":"date","type":"temporal","title":null,
"scale":{"nice":false,"domainRaw":{"expr":"[utc(2016,5,11),utc(2016,6,1),utc(2017,0,2),utc(2017,6,3),utc(2018,0,1),utc(2018,5,1),utc(2019,0,1),utc(2019,5,3),utc(2020,0,1),utc(2020,5,1),utc(2021,0,4),utc(2021,5,1),utc(2021,10,1),utc(2021,10,12)]"},
"range":[0,13,132,248,377,485,637,745,897,1004,1157,1263,1374,1382]},
"axis":{"values":[{"year":2016,"month":7,"date":1,"utc":true},{"year":2017,"month":1,"date":2,"utc":true},{"year":2017,"month":7,"date":3,"utc":true},{"year":2018,"month":1,"date":1,"utc":true},{"year":2018,"month":6,"date":1,"utc":true},{"year":2019,"month":1,"date":1,"utc":true},{"year":2019,"month":6,"date":3,"utc":true},{"year":2020,"month":1,"date":1,"utc":true},{"year":2020,"month":6,"date":1,"utc":true},{"year":2021,"month":1,"date":4,"utc":true},{"year":2021,"month":6,"date":1,"utc":true},{"year":2021,"month":11,"date":1,"utc":true}],
"labelExpr":"utcmonth(datum.value)==0 ? utcFormat(datum.value,'%Y') : utcFormat(datum.value,'%b')",
"grid":true,"gridColor":"#f0f3fa","gridWidth":1,"domain":false,"ticks":false,"labelPadding":9,"labelFontSize":14,"labelFont":"Open Sans","labelFlush":false,"labelOverlap":false,
"labelColor":{"condition":{"test":"utcmonth(datum.value)==0","value":"#131722"},"value":"#4c525e"},
"labelFontWeight":{"condition":{"test":"utcmonth(datum.value)==0","value":"bold"},"value":"normal"}}}
},
"layer":[
{"data":{"name":"volume"},"mark":{"type":"bar","size":1.6},
"encoding":{"y":{"field":"vol","type":"quantitative","title":null,"axis":null,"scale":{"domain":[-15,9255]}},
"color":{"field":"side","type":"nominal","legend":null,"scale":{"domain":["up","down"],"range":["#92d2cc","#f7a9a7"]}}}},
{"data":{"values":[{"date":"2016-06-11","date2":"2021-10-29","vol":0}]},"mark":{"type":"rule","color":"#92d2cc","strokeWidth":1.5},
"encoding":{"x2":{"field":"date2"},"y":{"field":"vol","type":"quantitative","title":null,"axis":null,"scale":{"domain":[-15,9255]}}}},
{"data":{"values":[{"date":"2016-06-11","date2":"2021-11-12","price":233}]},"mark":{"type":"rule","color":"#2962ff","strokeWidth":1,"strokeDash":[1,2]},
"encoding":{"x2":{"field":"date2"},"y":{"field":"price","type":"quantitative","title":null,"scale":{"domain":[14.7,303]},
"axis":{"orient":"right","values":[20,40,60,80,100,120,140,160,180,200,220,240,260,280,300],"format":".2f","grid":true,"gridColor":"#f0f3fa","domain":true,"domainColor":"#d1d4dc","ticks":false,"labelPadding":13,"labelFontSize":14,"labelOffset":1,"labelColor":"#131722","labelFont":"Open Sans"}}}},
{"data":{"name":"contracts"},"transform":[{"filter":"isValid(datum.z)"}],"mark":{"type":"line","color":"#fbc02d","strokeWidth":2.8,"strokeJoin":"round"},
"encoding":{"y":{"field":"z","type":"quantitative","title":null,"axis":null,"scale":{"domain":[14.7,303]}}}},
{"data":{"name":"contracts"},"transform":[{"filter":"isValid(datum.m)"}],"mark":{"type":"line","color":"#26c6da","strokeWidth":2.8,"strokeJoin":"round"},
"encoding":{"y":{"field":"m","type":"quantitative","title":null,"axis":null,"scale":{"domain":[14.7,303]}}}},
{"data":{"name":"contracts"},"transform":[{"filter":"isValid(datum.f)"}],"mark":{"type":"line","color":"#ff6d00","strokeWidth":3,"strokeJoin":"round"},
"encoding":{"y":{"field":"f","type":"quantitative","title":null,"axis":null,"scale":{"domain":[14.7,303]}}}},
{"data":{"name":"api2"},"mark":{"type":"line","color":"#2962ff","strokeWidth":2.8,"strokeJoin":"round"},
"encoding":{"y":{"field":"price","type":"quantitative","title":null,"axis":null,"scale":{"domain":[14.7,303]}}}},
{"data":{"values":[{"date":"2016-06-11","date2":"2022-02-17","top":303,"bottom":4.44}]},"mark":{"type":"rect","fillOpacity":0,"stroke":"#f0f3fa","strokeWidth":2},
"encoding":{"x2":{"field":"date2"},"y":{"field":"top","type":"quantitative","title":null,"axis":null,"scale":{"domain":[14.7,303]}},"y2":{"field":"bottom"}}},
{"data":{"values":[{"date":"2021-12-07","date2":"2022-01-24","top":300.8,"bottom":294}]},"mark":{"type":"rect","fill":"white","stroke":"#e0e3eb","strokeWidth":1,"cornerRadius":5},
"encoding":{"x2":{"field":"date2"},"y":{"field":"top","type":"quantitative","title":null,"axis":null,"scale":{"domain":[14.7,303]}},"y2":{"field":"bottom"}}},
{"data":{"name":"tags"},"mark":{"type":"rect","cornerRadius":2},
"encoding":{"x2":{"field":"date2"},"y":{"field":"top","type":"quantitative","title":null,"axis":null,"scale":{"domain":[14.7,303]}},"y2":{"field":"bottom"},
"color":{"field":"series","type":"nominal","legend":null,"scale":{"domain":["api2","f","m","z"],"range":["#2962ff","#ff6d00","#26c6da","#fbc02d"]}}}},
{"data":{"name":"labels"},"mark":{"type":"text","align":"left","baseline":"middle","fontSize":14.35,"font":"Open Sans","dy":1},
"encoding":{"y":{"field":"price","type":"quantitative","title":null,"axis":null,"scale":{"domain":[14.7,303]}},"text":{"field":"text"},
"color":{"field":"role","type":"nominal","legend":null,"scale":{"domain":["ink","white","vol","api2","f","m","z"],"range":["#2a2e39","#ffffff","#26a69a","#2962ff","#ff6d00","#26c6da","#fbc02d"]}}}},
{"data":{"values":[{"date":"2016-07-26","price":-3.04,"text":"TradingView"}]},"mark":{"type":"text","align":"left","baseline":"middle","fontSize":15.8,"font":"Open Sans","color":"#4c525e"},
"encoding":{"y":{"field":"price","type":"quantitative","title":null,"axis":null,"scale":{"domain":[14.7,303]}},"text":{"field":"text"}}},
{"data":{"values":[{"date":"2016-06-30","price":-2.73}]},"mark":{"type":"point","filled":true,"opacity":1,"color":"#131722","size":576,"strokeWidth":0,
"shape":"M-1 -0.51 H-0.135 V0.51 H-0.54 V-0.19 H-1 Z M0 -0.35 A0.1 0.1 0 1 1 0.2 -0.35 A0.1 0.1 0 1 1 0 -0.35 Z M0.35 -0.51 H1 L0.42 0.51 H-0.08 Z"},
"encoding":{"y":{"field":"price","type":"quantitative","title":null,"axis":null,"scale":{"domain":[14.7,303]}}}}
],
"resolve":{"scale":{"y":"independent","color":"independent"}}
}
